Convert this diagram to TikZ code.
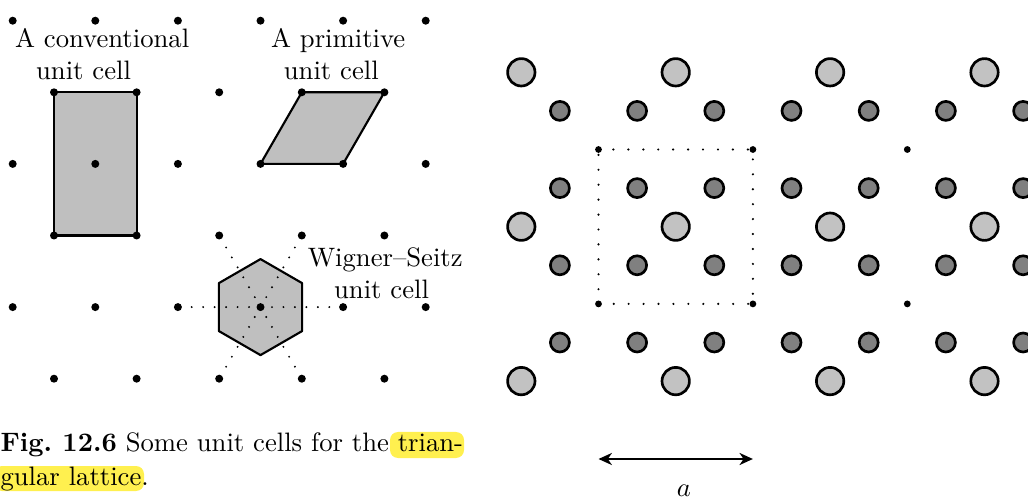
\documentclass[tikz,border=0pt]{standalone}
\usetikzlibrary{arrows.meta, calc, backgrounds}
\definecolor{cellgrey}{gray}{0.75}
\definecolor{atomlight}{gray}{0.76}
\definecolor{atomdark}{gray}{0.5}
\definecolor{hlyellow}{HTML}{FFF04F}
\tikzset{
  every picture/.style={line width=0.8pt},
  cell/.style={draw=black, fill=cellgrey, line join=round},
  site/.style={fill=black},
  nbr/.style={line width=0.8pt, dash pattern=on 0pt off 4.3pt, line cap=round},
  bigatom/.style={draw=black, fill=atomlight, line width=1pt},
  smallatom/.style={draw=black, fill=atomdark, line width=1pt},
  cellbox/.style={line width=0.9pt, dash pattern=on 0pt off 5.6pt, line cap=round},
  dimarrow/.style={{Stealth[length=5pt,width=4.5pt,inset=1.5pt]}-{Stealth[length=5pt,width=4.5pt,inset=1.5pt]}, line width=0.8pt},
  celltext/.style={align=left, inner sep=0pt, anchor=base west},
  hl/.style={fill=hlyellow, rounded corners=3pt},
}
\begin{document}
\begin{tikzpicture}[x=0.375pt, y=-0.375pt]
  \useasboundingbox (0,0) rectangle (1028,498);

  % triangular lattice, rows of 6 and 5 points
  \foreach \r in {0,2,4} \foreach \c in {0,...,5}
    \coordinate (p-\r-\c) at (12.7+82.6*\c, 20.7+71.6*\r);
  \foreach \r in {1,3,5} \foreach \c in {0,...,4}
    \coordinate (p-\r-\c) at (54+82.6*\c, 20.7+71.6*\r);

  % conventional, primitive and Wigner--Seitz cells
  \draw[cell] (p-1-0) -- (p-1-1) -- (p-3-1) -- (p-3-0) -- cycle;
  \draw[cell] (p-2-3) -- (p-2-4) -- (p-1-4) -- (p-1-3) -- cycle;
  \draw[cell] ($(p-4-3)+(90:48)$) \foreach \k in {1,...,5} {-- ($(p-4-3)+(90+60*\k:48)$)} -- cycle;
  \foreach \n in {p-4-2, p-4-4, p-3-2, p-3-3, p-5-2, p-5-3}
    \draw[nbr] (p-4-3) -- (\n);

  \foreach \r in {0,2,4} \foreach \c in {0,...,5} \fill[site] (p-\r-\c) circle (4);
  \foreach \r in {1,3,5} \foreach \c in {0,...,4} \fill[site] (p-\r-\c) circle (4);

  \node[celltext] (conv) at (14,80) {A conventional\\\hspace*{7.9pt}unit cell};
  \node[celltext] (prim) at (270,80) {A primitive\\\hspace*{4.8pt}unit cell};
  \node[celltext] (ws) at (306.7,298.3) {Wigner--Seitz\\\hspace*{9.9pt}unit cell};

  % caption
  \begin{scope}[on background layer]
    \fill[hl] (390,432) rectangle (464,458);
    \fill[hl] (-6,466) rectangle (144,491);
  \end{scope}
  \node[celltext] (cap) at (-0.5,486) {\textbf{Fig.\ 12.6} Some unit cells for the trian-\\[0.9pt]gular lattice.};

  % the crystal
  \begin{scope}[shift={(521.3,72.3)}]
    \foreach \i in {0,...,3} \foreach \j in {0,...,2}
      \draw[bigatom] (154.4*\i, 154.4*\j) circle (13.7);
    \foreach \i in {0,...,6} \foreach \j in {0,...,3}
      \draw[smallatom] (38.6+77.2*\i, 38.6+77.2*\j) circle (9.5);
    \foreach \i in {0,1,2} \foreach \j in {0,1}
      \coordinate (q-\i-\j) at (77.2+154.4*\i, 77.2+154.4*\j);
  \end{scope}
  \draw[cellbox] (q-0-0) -- (q-1-0) -- (q-1-1) -- (q-0-1) -- cycle;
  \foreach \i in {0,1,2} \foreach \j in {0,1} \fill[site] (q-\i-\j) circle (3.4);

  % lattice constant
  \coordinate (al) at (598.5,459);
  \coordinate (ar) at (752.9,459);
  \draw[dimarrow] (al) -- (ar);
  \node[inner sep=0pt, anchor=base] (alabel) at (684,496) {$a$};
\end{tikzpicture}
\end{document}
